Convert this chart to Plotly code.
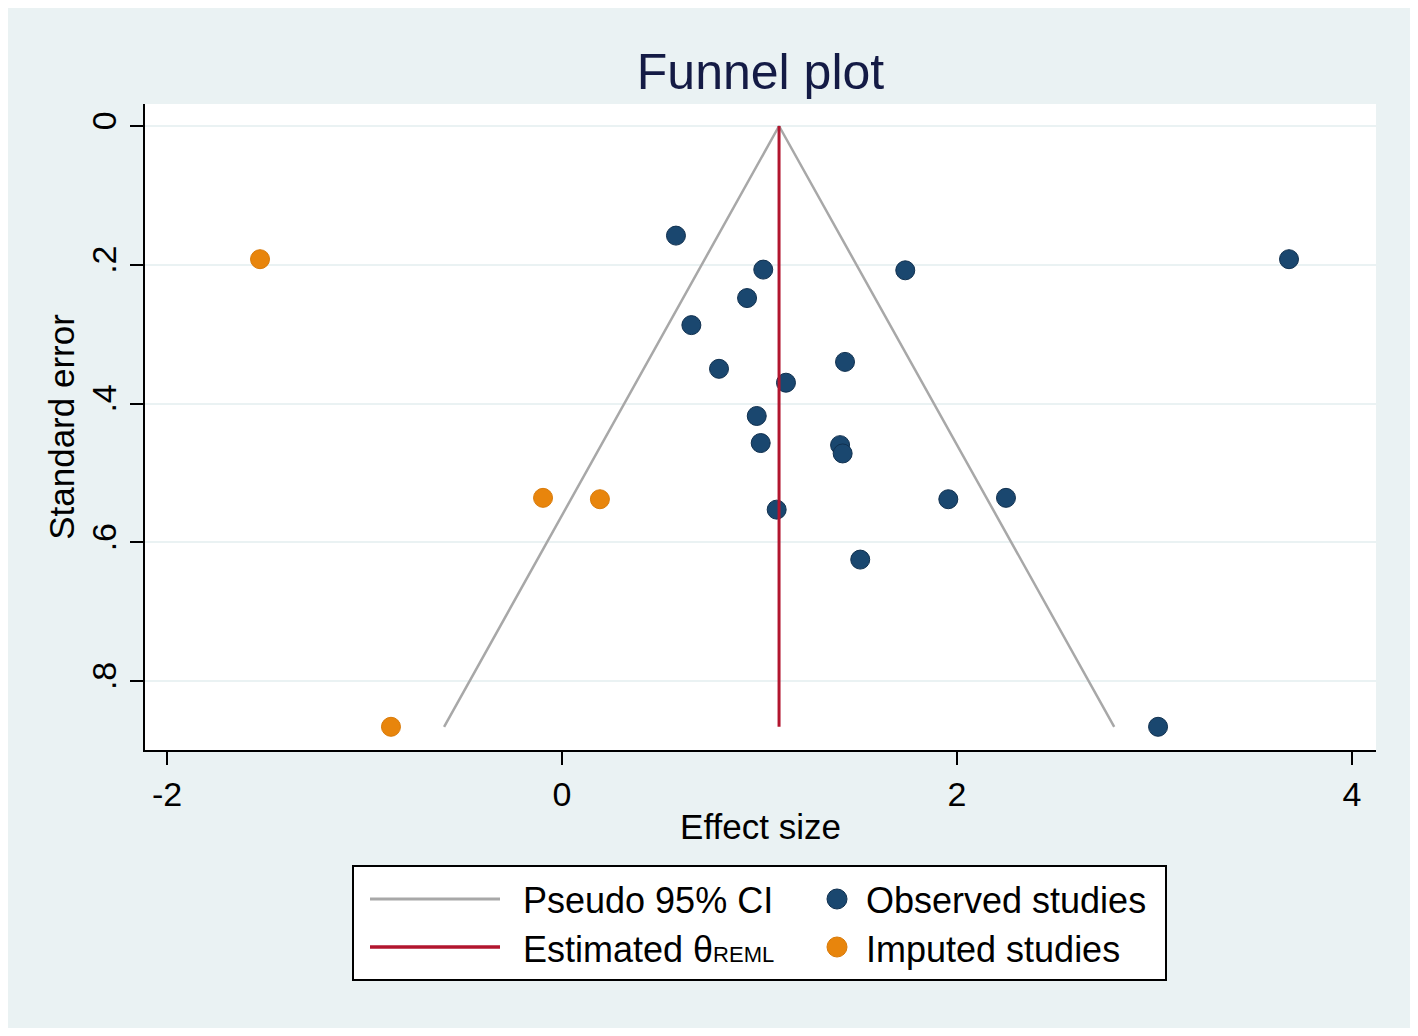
import plotly.graph_objects as go

# effect size (x) and standard error (y)
observed_es = [0.577, 1.019, 1.738, 3.681, 0.937, 0.655, 1.433, 0.795, 1.134, 0.986,
               1.006, 1.408, 1.421, 1.956, 2.248, 1.087, 1.510, 3.018]
observed_se = [0.158, 0.207, 0.208, 0.192, 0.248, 0.287, 0.340, 0.350, 0.370, 0.418,
               0.457, 0.460, 0.472, 0.538, 0.536, 0.553, 0.625, 0.866]

imputed_es = [-1.529, -0.096, 0.192, -0.866]
imputed_se = [0.192, 0.536, 0.538, 0.866]

theta_reml = 1.099
funnel_es = [-0.597, 1.099, 2.796]
funnel_se = [0.866, 0.0, 0.866]
theta_es = [theta_reml, theta_reml]
theta_se = [0.0, 0.866]

x_ticks = [-2, 0, 2, 4]
y_ticks = [0, 0.2, 0.4, 0.6, 0.8]
y_tick_labels = ['0', '.2', '.4', '.6', '.8']

NAVY = '#1A476F'
ORANGE = '#E8850C'
GRAY = '#A8A8A8'
RED = '#B2152E'
BG = '#EAF2F3'
FONT = 'Liberation Sans, Arial, sans-serif'

# page body has an 8px margin, so work in page pixels and shift
OFF = 8
W, H = 1411 - OFF - 1, 1029 - OFF - 1
L, R, T, B = 145 - OFF, 1376 - OFF, 104 - OFF, 750 - OFF


def px(p):
    return (p - OFF - L) / (R - L)


def py(p):
    return (B - (p - OFF)) / (B - T)


fig = go.Figure()
fig.add_trace(go.Scatter(
    x=observed_es, y=observed_se, mode='markers', name='Observed studies',
    marker=dict(size=19, color=NAVY, line=dict(width=1, color='#10304F')),
))
fig.add_trace(go.Scatter(
    x=imputed_es, y=imputed_se, mode='markers', name='Imputed studies',
    marker=dict(size=19, color=ORANGE, line=dict(width=1, color='#D97A08')),
))
fig.add_trace(go.Scatter(
    x=funnel_es, y=funnel_se, mode='lines', name='Pseudo 95% CI',
    line=dict(color=GRAY, width=2.5),
))
fig.add_trace(go.Scatter(
    x=theta_es, y=theta_se, mode='lines', name='Estimated θ',
    line=dict(color=RED, width=3),
))

# hand-made legend (long line keys, two columns, boxed)
shapes = [
    dict(type='rect', xref='paper', yref='paper', x0=px(353), x1=px(1166),
         y0=py(980), y1=py(866), line=dict(color='black', width=2),
         fillcolor='white', layer='above'),
    dict(type='line', xref='paper', yref='paper', x0=px(370), x1=px(500),
         y0=py(899), y1=py(899), line=dict(color=GRAY, width=3)),
    dict(type='line', xref='paper', yref='paper', x0=px(370), x1=px(500),
         y0=py(947), y1=py(947), line=dict(color=RED, width=3.5)),
    dict(type='circle', xref='paper', yref='paper', x0=px(827), x1=px(847),
         y0=py(909), y1=py(889), fillcolor=NAVY, line=dict(color='#10304F', width=1)),
    dict(type='circle', xref='paper', yref='paper', x0=px(827), x1=px(847),
         y0=py(957), y1=py(937), fillcolor=ORANGE, line=dict(color='#D97A08', width=1)),
]

legend_text = [
    ('Pseudo 95% CI', 521, 900),
    ('Estimated θ<span style="font-size:22px">REML</span>', 521, 949),
    ('Observed studies', 864, 900),
    ('Imputed studies', 864, 949),
]
annotations = [
    dict(text=t, xref='paper', yref='paper', x=px(x0), y=py(y0),
         xanchor='left', yanchor='middle', showarrow=False,
         font=dict(family=FONT, size=36, color='black'))
    for t, x0, y0 in legend_text
]

fig.update_layout(
    width=W, height=H, autosize=False,
    margin=dict(l=L, r=W - R, t=T, b=H - B, pad=0),
    paper_bgcolor=BG, plot_bgcolor='white',
    showlegend=False,
    font=dict(family=FONT, size=34, color='black'),
    title=dict(text='Funnel plot', x=(L + R) / 2 / W, xanchor='center',
               y=1 - (71 - OFF) / H, yanchor='middle', yref='container',
               font=dict(family=FONT, size=50, color='#141B45')),
    shapes=shapes,
    annotations=annotations,
)

fig.update_xaxes(
    range=[(145 - 562) / 197.5, (1376 - 562) / 197.5],
    tickvals=x_ticks, ticktext=[str(v) for v in x_ticks],
    showgrid=False, zeroline=False,
    showline=True, linecolor='black', linewidth=2,
    ticks='outside', ticklen=13, tickwidth=2, tickcolor='black',
    tickfont=dict(size=34),
    title=dict(text='Effect size', font=dict(size=35), standoff=3),
)
fig.update_yaxes(
    range=[(750 - 126) / 693.75, (104 - 126) / 693.75],
    tickvals=y_ticks, ticktext=y_tick_labels, tickangle=-90,
    showgrid=True, gridcolor=BG, gridwidth=2, zeroline=False,
    showline=True, linecolor='black', linewidth=2,
    ticks='outside', ticklen=13, tickwidth=2, tickcolor='black',
    tickfont=dict(size=34),
    title=dict(text='Standard error', font=dict(size=35), standoff=0),
)

fig.write_html('out.html')
